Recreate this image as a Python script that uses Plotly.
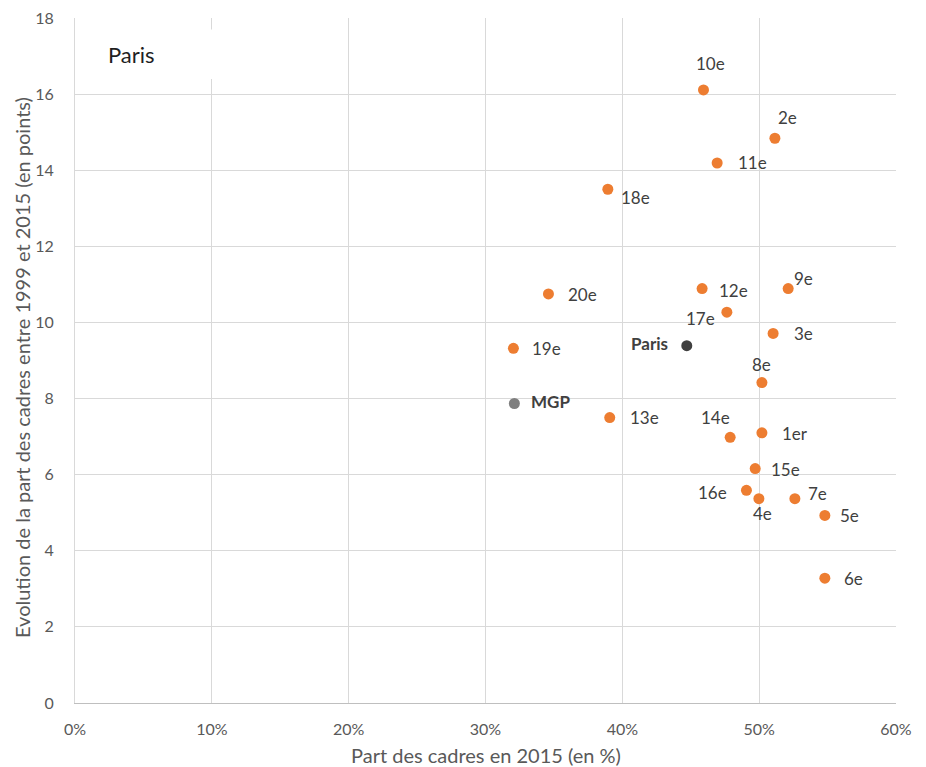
import plotly.graph_objects as go

# Data
arrondissements = ["10e", "2e", "11e", "18e", "20e", "12e", "9e", "17e", "3e", "19e",
                   "8e", "13e", "14e", "1er", "15e", "16e", "4e", "7e", "5e", "6e"]
part_cadres_2015 = [0.4593, 0.5115, 0.4693, 0.3894, 0.3460, 0.4583, 0.5212, 0.4764, 0.5102, 0.3204,
                    0.5020, 0.3908, 0.4788, 0.5020, 0.4971, 0.4907, 0.4998, 0.5261, 0.5480, 0.5480]
evolution_points = [16.11, 14.84, 14.19, 13.50, 10.75, 10.89, 10.89, 10.27, 9.71, 9.32,
                    8.42, 7.50, 6.98, 7.10, 6.16, 5.59, 5.37, 5.37, 4.93, 3.28]

ref_names = ["Paris", "MGP"]
ref_x = [0.4471, 0.3211]
ref_y = [9.39, 7.87]

x_ticks = [0, 0.1, 0.2, 0.3, 0.4, 0.5, 0.6]
y_ticks = [0, 2, 4, 6, 8, 10, 12, 14, 16, 18]

# label offsets in pixels (dx, dy down-positive)
label_offsets = {
    "10e": (7, -26), "2e": (13, -21), "11e": (35, 0), "18e": (28, 8), "20e": (34, 1),
    "12e": (31, 2), "9e": (15, -10), "17e": (-26, 6), "3e": (30, 0), "19e": (33, 0),
    "8e": (0, -18), "13e": (35, 0), "14e": (-15, -20), "1er": (33, 1), "15e": (30, 1),
    "16e": (-34, 2), "4e": (4, 15), "7e": (23, -5), "5e": (25, 0), "6e": (29, 0),
    "Paris": (-37, -2), "MGP": (36, -2),
}

FONT = "Lato"
TXT = "#404040"
GRAY = "#595959"
ORANGE = "#ED7D31"

W, H = 918, 759
ML, MT = 67, 10
PW, PH = 821, 685
MR, MB = W - ML - PW, H - MT - PH

fig = go.Figure()
fig.add_trace(go.Scatter(
    x=part_cadres_2015, y=evolution_points, mode="markers",
    marker=dict(color=ORANGE, size=11), hoverinfo="text", text=arrondissements,
    showlegend=False))
fig.add_trace(go.Scatter(
    x=ref_x, y=ref_y, mode="markers",
    marker=dict(color=["#404040", "#7F7F7F"], size=11), hoverinfo="text", text=ref_names,
    showlegend=False))

annotations = []
for name, xv, yv in zip(arrondissements, part_cadres_2015, evolution_points):
    dx, dy = label_offsets[name]
    annotations.append(dict(x=xv, y=yv, xref="x", yref="y", text=name, showarrow=False,
                            xshift=dx, yshift=-dy,
                            font=dict(family=FONT, size=17, color=TXT)))
for name, xv, yv in zip(ref_names, ref_x, ref_y):
    dx, dy = label_offsets[name]
    annotations.append(dict(x=xv, y=yv, xref="x", yref="y", text="<b>" + name + "</b>",
                            showarrow=False, xshift=dx, yshift=-dy,
                            font=dict(family=FONT, size=17, color=TXT)))

# Title box "Paris"
annotations.append(dict(x=0.023, y=17.03, xref="x", yref="y", text="Paris", showarrow=False,
                        xanchor="left", yanchor="middle",
                        font=dict(family=FONT, size=22, color="#1F1F1F")))

# Axis titles (placed as paper-referenced annotations)
annotations.append(dict(x=(478 - ML) / PW, y=(MT + PH - 747) / PH, xref="paper", yref="paper",
                        text="Part des cadres en 2015 (en %)", showarrow=False,
                        xanchor="center", yanchor="middle",
                        font=dict(family=FONT, size=20, color=GRAY)))
annotations.append(dict(x=(14 - ML) / PW, y=(MT + PH - 360) / PH, xref="paper", yref="paper",
                        text="Evolution de la part des cadres entre 1999 et 2015 (en points)",
                        showarrow=False, textangle=-90,
                        xanchor="center", yanchor="middle",
                        font=dict(family=FONT, size=20, color=GRAY)))

fig.update_layout(
    width=W, height=H,
    margin=dict(l=ML, r=MR, t=MT, b=MB),
    paper_bgcolor="white", plot_bgcolor="white",
    font=dict(family=FONT, color=GRAY),
    annotations=annotations,
    shapes=[dict(type="rect", xref="x", yref="y", x0=0.005, x1=0.19, y0=16.4, y1=17.7,
                 fillcolor="white", line=dict(width=0), layer="above")],
    xaxis=dict(range=[0, 0.6], tickvals=x_ticks, tickformat=".0%", automargin=False,
               showgrid=True, gridcolor="#D9D9D9", gridwidth=1,
               showline=True, linecolor="#BFBFBF", linewidth=1, zeroline=False,
               ticks="", tickfont=dict(size=16, color=GRAY), ticklabelstandoff=12,
               ticklabeloverflow="allow", fixedrange=True),
    yaxis=dict(range=[0, 18], tickvals=y_ticks, automargin=False,
               showgrid=True, gridcolor="#D9D9D9", gridwidth=1,
               showline=True, linecolor="#D9D9D9", linewidth=1, zeroline=False,
               ticks="", tickfont=dict(size=16, color=GRAY), ticklabelstandoff=17,
               ticklabeloverflow="allow", fixedrange=True),
)

fig.write_html("out.html")
